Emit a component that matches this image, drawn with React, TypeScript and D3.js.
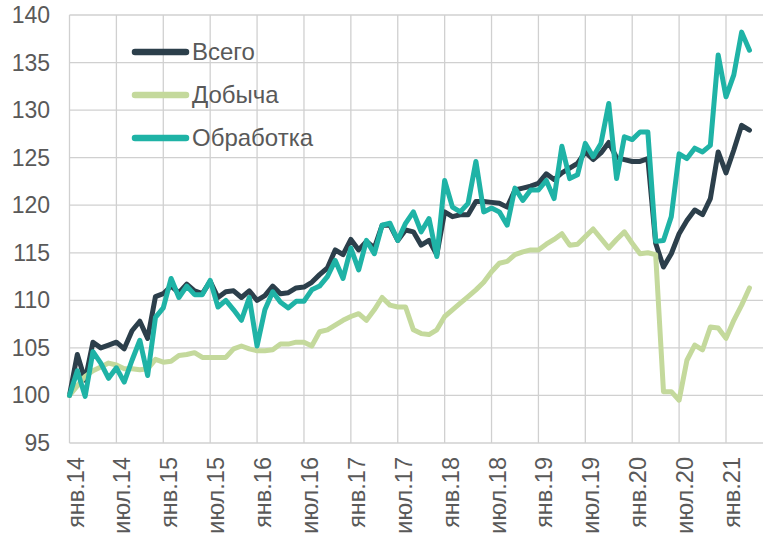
import React, { useEffect, useRef } from "react";
import * as d3 from "d3";

// monthly indices, Jan 2014 .. Apr 2021 (Jan 2014 = 100)
const tickLabels = [
  "янв.14", "июл.14", "янв.15", "июл.15", "янв.16", "июл.16", "янв.17", "июл.17",
  "янв.18", "июл.18", "янв.19", "июл.19", "янв.20", "июл.20", "янв.21",
];
const yTicks = [95, 100, 105, 110, 115, 120, 125, 130, 135, 140];

const vsego = [
  100.0, 104.3, 101.6, 105.6, 105.0, 105.3, 105.6, 104.9, 106.8, 107.8, 106.0, 110.4,
  110.7, 111.5, 110.8, 111.7, 111.0, 110.7, 112.0, 110.3, 110.9, 111.0, 110.3, 111.0,
  110.0, 110.5, 111.5, 110.7, 110.8, 111.3, 111.4, 111.9, 112.7, 113.4, 115.3, 114.8,
  116.4, 115.3, 116.2, 115.5, 117.9, 117.9, 116.3, 117.4, 117.2, 115.8, 116.3, 114.8,
  119.3, 118.8, 119.0, 119.0, 120.4, 120.4, 120.3, 120.2, 119.8, 121.6, 121.8, 122.0,
  122.3, 123.3, 122.7, 123.4, 123.9, 124.4, 125.6, 124.8, 125.5, 126.6, 125.0, 124.8,
  124.6, 124.6, 124.9, 116.0, 113.5, 114.9, 117.0, 118.4, 119.5, 119.0, 120.7, 125.6,
  123.4, 125.8, 128.4, 127.9,
];

const dobycha = [
  100.0, 101.0, 102.0, 102.6, 103.0, 103.4, 103.2, 102.8, 102.8, 102.7, 102.8, 103.8,
  103.5, 103.6, 104.2, 104.3, 104.5, 104.0, 104.0, 104.0, 104.0, 104.9, 105.2, 104.9,
  104.7, 104.7, 104.8, 105.4, 105.4, 105.6, 105.6, 105.2, 106.7, 106.9, 107.4, 107.9,
  108.3, 108.6, 107.9, 109.0, 110.3, 109.5, 109.3, 109.3, 106.9, 106.5, 106.4, 106.9,
  108.3, 109.0, 109.7, 110.4, 111.1, 111.9, 113.0, 113.9, 114.1, 114.8, 115.1, 115.3,
  115.3, 115.9, 116.4, 117.0, 115.8, 115.9, 116.7, 117.5, 116.5, 115.5, 116.4, 117.2,
  116.0, 114.9, 115.0, 114.8, 100.4, 100.4, 99.5, 103.7, 105.3, 104.8, 107.2, 107.1,
  106.0, 107.9, 109.5, 111.3,
];

const obrabotka = [
  100.0, 102.6, 99.9, 104.6, 103.4, 101.8, 102.9, 101.4, 103.7, 105.8, 102.1, 108.2,
  109.2, 112.3, 110.3, 111.5, 110.6, 110.6, 112.1, 109.3, 110.0, 109.0, 107.9, 110.3,
  105.2, 109.0, 110.9, 109.8, 109.2, 109.9, 109.9, 111.1, 111.5, 112.5, 114.2, 112.3,
  115.5, 113.2, 116.3, 114.9, 117.9, 118.1, 116.3, 118.1, 119.3, 117.2, 118.6, 114.6,
  122.6, 119.8, 119.3, 120.2, 124.6, 119.3, 119.7, 119.3, 117.9, 121.8, 120.5, 121.6,
  121.6, 122.6, 120.7, 126.2, 122.8, 123.2, 126.5, 125.1, 126.5, 130.7, 122.8, 127.2,
  126.9, 127.7, 127.7, 116.2, 116.3, 118.8, 125.4, 124.9, 126.0, 125.6, 126.3, 135.8,
  131.4, 133.7, 138.2, 136.3,
];

const seriesNames = ["Всего", "Добыча", "Обработка"];
const seriesColors = ["#2c3f4b", "#c4d99c", "#1fb3a6"];

const App = () => {
  const svgRef = useRef<SVGSVGElement>(null);

  useEffect(() => {
    const width = 763;
    const height = 533;
    const font = "'Liberation Sans', Arial, sans-serif";

    const svg = d3.select(svgRef.current);
    svg.selectAll("*").remove();
    svg.attr("width", width).attr("height", height);

    const x = d3.scaleLinear().domain([0, 84]).range([69.5, 726]);
    const y = d3.scaleLinear().domain([95, 140]).range([443, 15]);
    const plotRight = width;

    // grid
    const grid = svg.append("g").attr("stroke", "#d0d0d0").attr("stroke-width", 1.3);
    yTicks.forEach((t) => {
      grid.append("line")
        .attr("x1", x(0)).attr("x2", plotRight)
        .attr("y1", y(t)).attr("y2", y(t));
    });
    tickLabels.forEach((_, k) => {
      grid.append("line")
        .attr("x1", x(k * 6)).attr("x2", x(k * 6))
        .attr("y1", y(140)).attr("y2", y(95));
    });

    // y labels
    svg.append("g")
      .selectAll("text")
      .data(yTicks)
      .join("text")
      .attr("x", 50)
      .attr("y", (d) => y(d))
      .attr("dy", "0.35em")
      .attr("text-anchor", "end")
      .attr("font-family", font)
      .attr("font-size", 23)
      .attr("fill", "#595959")
      .text((d) => d);

    // x labels
    svg.append("g")
      .selectAll("text")
      .data(tickLabels)
      .join("text")
      .attr("transform", (_, k) => `translate(${x(k * 6) + 14},457) rotate(-90)`)
      .attr("text-anchor", "end")
      .attr("font-family", font)
      .attr("font-size", 23.5)
      .attr("fill", "#595959")
      .text((d) => d);

    // lines
    const line = d3.line<number>()
      .x((_, i) => x(i))
      .y((d) => y(d));

    [vsego, dobycha, obrabotka].forEach((values, s) => {
      svg.append("path")
        .datum(values)
        .attr("fill", "none")
        .attr("stroke", seriesColors[s])
        .attr("stroke-width", 5)
        .attr("stroke-linejoin", "round")
        .attr("stroke-linecap", "round")
        .attr("d", line);
    });

    // legend
    const legend = svg.append("g");
    seriesNames.forEach((name, s) => {
      const ly = 52 + s * 43;
      legend.append("line")
        .attr("x1", 135).attr("x2", 186)
        .attr("y1", ly).attr("y2", ly)
        .attr("stroke", seriesColors[s])
        .attr("stroke-width", 6.5)
        .attr("stroke-linecap", "round");
      legend.append("text")
        .attr("x", 192)
        .attr("y", ly)
        .attr("dy", "0.35em")
        .attr("font-family", font)
        .attr("font-size", 24)
        .attr("fill", "#595959")
        .text(name);
    });
  }, []);

  return (
    <div style={{ position: "absolute", left: 0, top: 0 }}>
      <svg ref={svgRef}></svg>
    </div>
  );
};

export default App;
